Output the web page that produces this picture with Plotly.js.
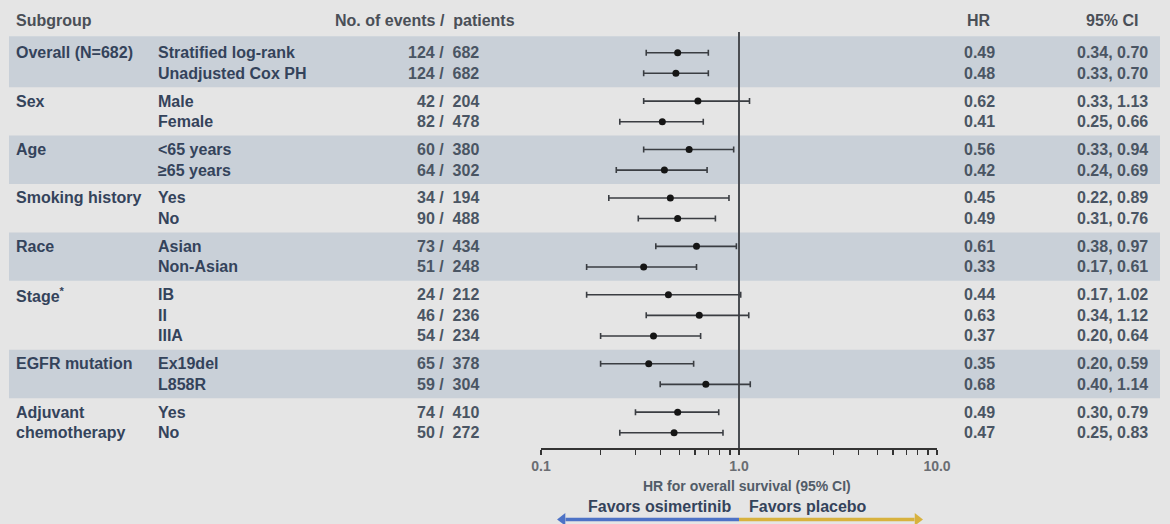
<!DOCTYPE html>
<html>
<head>
<meta charset="utf-8">
<script src="https://cdn.plot.ly/plotly-3.0.1.min.js"></script>
<style>html,body{margin:0;padding:0;background:#e5e5e5;}#chart{width:1170px;height:524px;}</style>
</head>
<body>
<div id="chart"></div>
<script>
// ---- data ----
const groups = ['Overall (N=682)', 'Sex', 'Age', 'Smoking history', 'Race', 'Stage<sup>*</sup>', 'EGFR mutation', 'Adjuvant<br>chemotherapy'];
const groupSizes = [2, 2, 2, 2, 2, 3, 2, 2];
const subgroups = ['Stratified log-rank', 'Unadjusted Cox PH', 'Male', 'Female', '&lt;65 years', '≥65 years',
  'Yes', 'No', 'Asian', 'Non-Asian', 'IB', 'II', 'IIIA', 'Ex19del', 'L858R', 'Yes', 'No'];
const events   = [124, 124, 42, 82, 60, 64, 34, 90, 73, 51, 24, 46, 54, 65, 59, 74, 50];
const patients = [682, 682, 204, 478, 380, 302, 194, 488, 434, 248, 212, 236, 234, 378, 304, 410, 272];
const hr     = [0.49, 0.48, 0.62, 0.41, 0.56, 0.42, 0.45, 0.49, 0.61, 0.33, 0.44, 0.63, 0.37, 0.35, 0.68, 0.49, 0.47];
const ciLow  = [0.34, 0.33, 0.33, 0.25, 0.33, 0.24, 0.22, 0.31, 0.38, 0.17, 0.17, 0.34, 0.20, 0.20, 0.40, 0.30, 0.25];
const ciHigh = [0.70, 0.70, 1.13, 0.66, 0.94, 0.69, 0.89, 0.76, 0.97, 0.61, 1.02, 1.12, 0.64, 0.59, 1.14, 0.79, 0.83];
const hrText = ['0.49', '0.48', '0.62', '0.41', '0.56', '0.42', '0.45', '0.49', '0.61', '0.33', '0.44', '0.63', '0.37', '0.35', '0.68', '0.49', '0.47'];
const ciText = ['0.34, 0.70', '0.33, 0.70', '0.33, 1.13', '0.25, 0.66', '0.33, 0.94', '0.24, 0.69', '0.22, 0.89', '0.31, 0.76',
  '0.38, 0.97', '0.17, 0.61', '0.17, 1.02', '0.34, 1.12', '0.20, 0.64', '0.20, 0.59', '0.40, 1.14', '0.30, 0.79', '0.25, 0.83'];
const tickValues = [0.1, 1, 10];
const tickLabels = ['0.1', '1.0', '10.0'];
const headers = {subgroup: 'Subgroup', counts: 'No. of events /  patients', hr: 'HR', ci: '95% CI'};
const axisTitle = 'HR for overall survival (95% CI)';
const favorsLeft = 'Favors osimertinib';
const favorsRight = 'Favors placebo';

// ---- layout helpers ----
const W = 1170, H = 524;
const px = v => v / W;          // horizontal pixel -> paper
const py = v => (H - v) / H;    // vertical pixel -> paper
const GAP = 1.35;               // step between groups (rows step = 1)
const PAD = GAP / 2;

const rowY = [];
const groupFirst = [];
let cur = 0;
groupSizes.forEach((n, gi) => {
  if (gi > 0) cur += GAP - 1;
  groupFirst.push(rowY.length);
  for (let k = 0; k < n; k++) { rowY.push(cur); cur += 1; }
});

const FAM = 'Liberation Sans, Arial, sans-serif';
const labelFont = {family: FAM, size: 16, color: '#34435b'};
const numFont = {family: FAM, size: 16, color: '#4a5563'};
const headFont = {family: FAM, size: 16, color: '#4a4f57'};

const annotations = [];
const shapes = [];

// header
annotations.push({xref: 'paper', yref: 'y', x: px(14), y: -1.55, xanchor: 'left', yanchor: 'middle', text: '<b>' + headers.subgroup + '</b>', showarrow: false, font: headFont});
annotations.push({xref: 'paper', yref: 'y', x: px(517), y: -1.55, xanchor: 'right', yanchor: 'middle', text: '<b>' + headers.counts + '</b>', showarrow: false, font: headFont});
annotations.push({xref: 'paper', yref: 'y', x: px(979), y: -1.55, xanchor: 'center', yanchor: 'middle', text: '<b>' + headers.hr + '</b>', showarrow: false, font: headFont});
annotations.push({xref: 'paper', yref: 'y', x: px(1112), y: -1.55, xanchor: 'center', yanchor: 'middle', text: '<b>' + headers.ci + '</b>', showarrow: false, font: headFont});

// group labels and bands
groups.forEach((g, gi) => {
  const first = groupFirst[gi];
  const last = first + groupSizes[gi] - 1;
  g.split('<br>').forEach((line, li) => {
    annotations.push({xref: 'paper', yref: 'y', x: px(14), y: rowY[first] + li, xanchor: 'left', yanchor: 'middle',
      text: '<b>' + line + '</b>', showarrow: false, font: labelFont});
  });
  if (gi % 2 === 0) {
    shapes.push({type: 'rect', xref: 'paper', yref: 'y', x0: px(9), x1: px(1160),
      y0: rowY[first] - (gi === 0 ? 0.8 : PAD), y1: rowY[last] + PAD,
      fillcolor: '#c9d0d8', line: {width: 0}, layer: 'below'});
  }
});

// row texts
rowY.forEach((y, i) => {
  annotations.push({xref: 'paper', yref: 'y', x: px(156), y: y, xanchor: 'left', yanchor: 'middle', text: '<b>' + subgroups[i] + '</b>', showarrow: false, font: labelFont});
  annotations.push({xref: 'paper', yref: 'y', x: px(481), y: y, xanchor: 'right', yanchor: 'middle', text: '<b>' + events[i] + ' /  ' + patients[i] + '</b>', showarrow: false, font: numFont});
  annotations.push({xref: 'paper', yref: 'y', x: px(979), y: y, xanchor: 'center', yanchor: 'middle', text: '<b>' + hrText[i] + '</b>', showarrow: false, font: numFont});
  annotations.push({xref: 'paper', yref: 'y', x: px(1112), y: y, xanchor: 'center', yanchor: 'middle', text: '<b>' + ciText[i] + '</b>', showarrow: false, font: numFont});
});

// axis title and favors
annotations.push({xref: 'paper', yref: 'paper', x: px(747), y: py(486), xanchor: 'center', yanchor: 'middle',
  text: '<b>' + axisTitle + '</b>', showarrow: false, font: {family: FAM, size: 14, color: '#525c68'}});
annotations.push({xref: 'paper', yref: 'paper', x: px(733), y: py(506), xanchor: 'right', yanchor: 'middle',
  text: '<b>' + favorsLeft + '</b>', showarrow: false, font: {family: FAM, size: 16, color: '#34435b'}});
annotations.push({xref: 'paper', yref: 'paper', x: px(747), y: py(506), xanchor: 'left', yanchor: 'middle',
  text: '<b>' + favorsRight + '</b>', showarrow: false, font: {family: FAM, size: 16, color: '#34435b'}});

// y range: row 0 at pixel 52.7, row step 20.6 px, plot area pixel 0..448
const STEP = 20.6, Y0 = 52.7, AXIS_PX = 448;
const yTop = (0 - Y0) / STEP, yBot = (AXIS_PX - Y0) / STEP;

// minor ticks
const allTicks = [], allTickText = [];
[0.1, 1].forEach(dec => { for (let k = 1; k <= 9; k++) { allTicks.push(dec * k); allTickText.push(''); } });
allTicks.push(10); allTickText.push('');
tickValues.forEach((v, i) => { const j = allTicks.findIndex(t => Math.abs(t - v) < 1e-9); allTickText[j] = '<b>' + tickLabels[i] + '</b>'; });

// direction arrows: shafts as lines from HR=1, heads as triangle markers
const arrowY = py(520);
const traces = [
  {type: 'scatter', mode: 'lines', x: [1, 1], y: [-1.0, yBot], line: {color: '#4a4d52', width: 2}, hoverinfo: 'skip', showlegend: false},
  {type: 'scatter', mode: 'markers', x: hr, y: rowY,
    marker: {color: '#151515', size: 7, symbol: 'circle'},
    error_x: {type: 'data', symmetric: false, array: hr.map((v, i) => ciHigh[i] - v), arrayminus: hr.map((v, i) => v - ciLow[i]),
      color: '#3a3d42', thickness: 1.6, width: 3},
    showlegend: false, hoverinfo: 'skip'},
  {type: 'scatter', mode: 'lines', xaxis: 'x', yaxis: 'y2', x: [1, 0.133], y: [0, 0], line: {color: '#4d72c6', width: 3.5}, hoverinfo: 'skip', showlegend: false, cliponaxis: false},
  {type: 'scatter', mode: 'markers', xaxis: 'x', yaxis: 'y2', x: [0.1285], y: [0], marker: {symbol: 'triangle-left', size: 11, color: '#4d72c6'}, hoverinfo: 'skip', showlegend: false, cliponaxis: false},
  {type: 'scatter', mode: 'lines', xaxis: 'x', yaxis: 'y2', x: [1, 7.7], y: [0, 0], line: {color: '#d8b23e', width: 3.5}, hoverinfo: 'skip', showlegend: false, cliponaxis: false},
  {type: 'scatter', mode: 'markers', xaxis: 'x', yaxis: 'y2', x: [7.97], y: [0], marker: {symbol: 'triangle-right', size: 11, color: '#d8b23e'}, hoverinfo: 'skip', showlegend: false, cliponaxis: false}
];

const layout = {
  width: W, height: H,
  margin: {l: 0, r: 0, t: 0, b: 0},
  paper_bgcolor: '#e5e5e5', plot_bgcolor: 'rgba(0,0,0,0)',
  showlegend: false,
  xaxis: {type: 'log', range: [-1, 1], domain: [px(541), px(937)], tickvals: allTicks, ticktext: allTickText,
    ticks: 'outside', ticklen: 5, tickwidth: 1.3, tickcolor: '#333', showline: true, linecolor: '#333', linewidth: 1.6,
    showgrid: false, zeroline: false, fixedrange: true,
    tickfont: {family: FAM, size: 14, color: '#6a6d72'}},
  yaxis: {range: [yBot, yTop], domain: [py(AXIS_PX), 1], visible: false, showgrid: false, zeroline: false, fixedrange: true},
  yaxis2: {range: [-1, 1], domain: [arrowY - 0.01, arrowY + 0.01], visible: false, fixedrange: true, anchor: 'free', position: 0},
  shapes: shapes,
  annotations: annotations
};

Plotly.newPlot('chart', traces, layout, {displayModeBar: false, staticPlot: true});
</script>
</body>
</html>
